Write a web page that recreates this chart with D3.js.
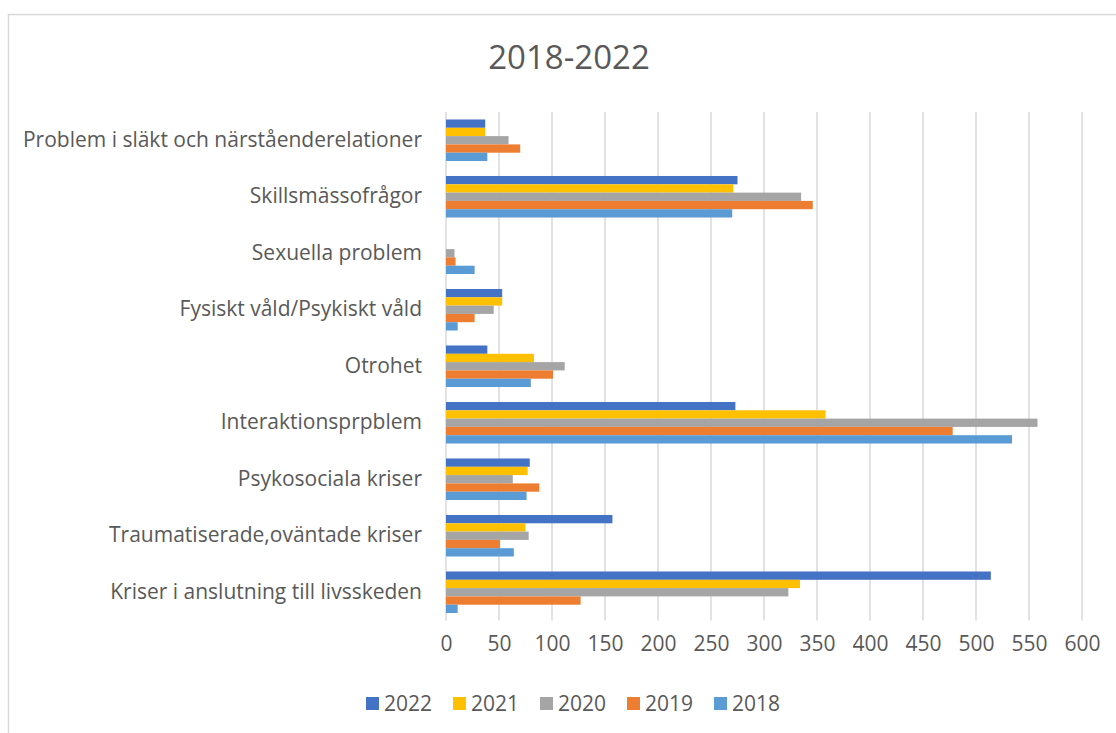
<!DOCTYPE html>
<html lang="sv">
<head>
<meta charset="UTF-8">
<title>2018-2022</title>
<style>
    body { margin: 0; background: #fff; }
    svg { display: block; font-family: "Open Sans", Lato, sans-serif; }
    .tick text { fill: #595959; }
</style>
</head>
<body>
<svg id="chart"></svg>
<script src="https://d3js.org/d3.v7.min.js"></script>
<script>
// categories, top to bottom as in the picture
const categories = [
    "Problem i släkt och närståenderelationer",
    "Skillsmässofrågor",
    "Sexuella problem",
    "Fysiskt våld/Psykiskt våld",
    "Otrohet",
    "Interaktionsprpblem",
    "Psykosociala kriser",
    "Traumatiserade,oväntade kriser",
    "Kriser i anslutning till livsskeden"
];
const years = ["2022", "2021", "2020", "2019", "2018"];
const colors = ["#4472c4", "#ffc000", "#a5a5a5", "#ed7d31", "#5b9bd5"];

// values per year, same order as categories
const v2022 = [37, 275, 0, 53, 39, 273, 79, 157, 514];
const v2021 = [37, 271, 0, 53, 83, 358, 77, 75, 334];
const v2020 = [59, 335, 8, 45, 112, 558, 63, 78, 323];
const v2019 = [70, 346, 9, 27, 101, 478, 88, 51, 127];
const v2018 = [39, 270, 27, 11, 80, 534, 76, 64, 11];
const xTicks = [0, 50, 100, 150, 200, 250, 300, 350, 400, 450, 500, 550, 600];

const series = [v2022, v2021, v2020, v2019, v2018];

const w = 1116, h = 733;
const plotLeft = 446, plotRight = 1082, plotTop = 112, plotBottom = 620.5;

const svg = d3.select("#chart").attr("width", w).attr("height", h);

// chart area border
svg.append("rect")
    .attr("x", 8.5).attr("y", 14.5)
    .attr("width", 1130).attr("height", 740)
    .attr("fill", "none")
    .attr("stroke", "#d9d9d9")
    .attr("stroke-width", 1.5);

const x = d3.scaleLinear().domain([0, 600]).range([plotLeft, plotRight]);

const y0 = d3.scaleBand()
    .domain(categories)
    .range([plotTop, plotBottom])
    .paddingInner(0.265)
    .paddingOuter(0.1325);

const y1 = d3.scaleBand()
    .domain(years)
    .range([0, y0.bandwidth()]);

// title
svg.append("text")
    .attr("x", 569).attr("y", 69)
    .attr("text-anchor", "middle")
    .attr("font-size", 33)
    .attr("fill", "#595959")
    .text("2018-2022");

// gridlines
svg.append("g")
    .selectAll("line")
    .data(xTicks)
    .join("line")
    .attr("x1", d => x(d)).attr("x2", d => x(d))
    .attr("y1", plotTop).attr("y2", plotBottom)
    .attr("stroke", "#d9d9d9")
    .attr("stroke-width", 1.5);

// bars
const groups = svg.append("g")
    .selectAll("g")
    .data(categories)
    .join("g")
    .attr("transform", d => "translate(0," + y0(d) + ")");

groups.selectAll("rect")
    .data((c, i) => years.map((yr, k) => ({ year: yr, value: series[k][i], color: colors[k] })))
    .join("rect")
    .attr("x", x(0))
    .attr("y", d => y1(d.year))
    .attr("width", d => x(d.value) - x(0))
    .attr("height", y1.bandwidth())
    .attr("fill", d => d.color);

// x axis labels
const xAxis = d3.axisBottom(x).tickValues(xTicks).tickSize(0).tickPadding(0);
const gx = svg.append("g")
    .attr("transform", "translate(0," + 636 + ")")
    .call(xAxis);
gx.select(".domain").remove();
gx.selectAll("text").attr("font-size", 21).attr("font-family", "'Open Sans', sans-serif");

// y axis labels
const yAxis = d3.axisLeft(y0).tickSize(0).tickPadding(24);
const gy = svg.append("g")
    .attr("transform", "translate(" + plotLeft + ",0)")
    .call(yAxis);
gy.select(".domain").remove();
gy.selectAll("text").attr("font-size", 21).attr("font-family", "'Open Sans', sans-serif");

// legend
const legend = svg.append("g")
    .selectAll("g")
    .data(years)
    .join("g")
    .attr("transform", (d, i) => "translate(" + (366 + i * 87) + ",697)");

legend.append("rect")
    .attr("width", 13).attr("height", 13)
    .attr("fill", (d, i) => colors[i]);

legend.append("text")
    .attr("x", 18).attr("y", 14)
    .attr("font-size", 21)
    .attr("fill", "#595959")
    .text(d => d);
</script>
</body>
</html>
